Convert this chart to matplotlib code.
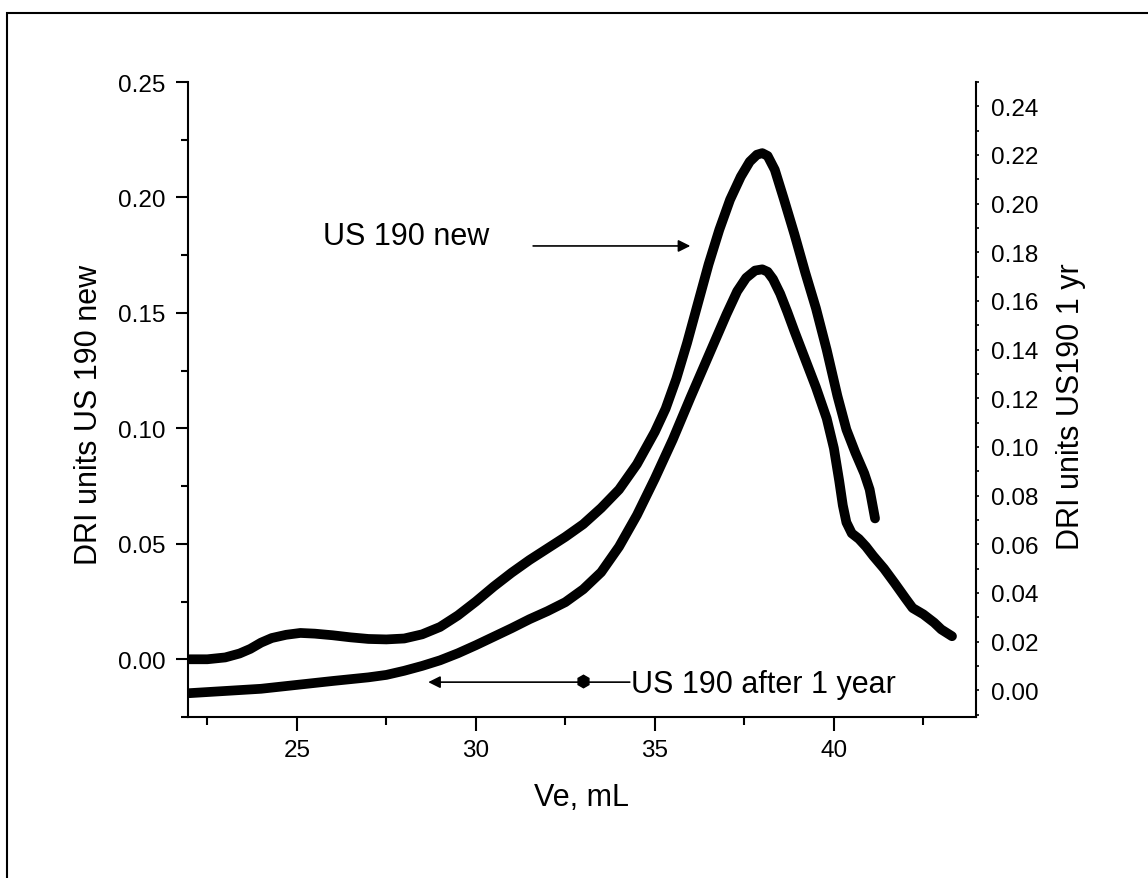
import matplotlib
matplotlib.use("Agg")
import matplotlib.pyplot as plt
from matplotlib.patches import Rectangle
from matplotlib.ticker import MultipleLocator

plt.rcParams['font.family'] = ['Liberation Sans', 'DejaVu Sans']

# US 190 new (left axis)
ve_new = [22.0, 22.5, 23.0, 23.4, 23.7, 24.0, 24.3, 24.7, 25.1, 25.5,
          26.0, 26.5, 27.0, 27.5, 28.0, 28.5, 29.0, 29.5, 30.0, 30.5,
          31.0, 31.5, 32.0, 32.5, 33.0, 33.5, 34.0, 34.5, 35.0, 35.3,
          35.6, 35.9, 36.2, 36.5, 36.8, 37.1, 37.4, 37.65, 37.85, 38.0,
          38.15, 38.35, 38.6, 38.9, 39.2, 39.5, 39.8, 40.1, 40.35, 40.6,
          40.85, 41.0, 41.15]
dri_new = [0.0, 0.0, 0.0008, 0.0025, 0.0045, 0.0072, 0.0092, 0.0106, 0.0114, 0.0111,
           0.0104, 0.0095, 0.0088, 0.0086, 0.0090, 0.0108, 0.0140, 0.0190, 0.0250, 0.0315,
           0.0375, 0.0430, 0.0480, 0.0530, 0.0585, 0.0655, 0.0735, 0.0845, 0.0985, 0.1085,
           0.1215, 0.1370, 0.1540, 0.1710, 0.1860, 0.1990, 0.2090, 0.2155, 0.2185, 0.2192,
           0.2180, 0.2120, 0.1995, 0.1840, 0.1675, 0.1520, 0.1340, 0.1140, 0.0995, 0.0895,
           0.0805, 0.0735, 0.0610]

# US 190 after 1 year (right axis)
ve_1yr = [22.0, 23.0, 24.0, 25.0, 26.0, 27.0, 27.5, 28.0, 28.5, 29.0,
          29.5, 30.0, 30.5, 31.0, 31.5, 32.0, 32.5, 33.0, 33.5, 34.0,
          34.5, 35.0, 35.5, 36.0, 36.5, 37.0, 37.3, 37.55, 37.8, 38.0,
          38.15, 38.3, 38.5, 38.7, 38.9, 39.2, 39.5, 39.8, 40.0, 40.15,
          40.25, 40.35, 40.5, 40.7, 40.9, 41.1, 41.4, 41.7, 42.0, 42.2,
          42.5, 42.8, 43.0, 43.3]
dri_1yr = [-0.0012, -0.0003, 0.0006, 0.0022, 0.0038, 0.0053, 0.0063, 0.0080, 0.0100, 0.0123,
           0.0152, 0.0185, 0.0220, 0.0255, 0.0292, 0.0325, 0.0362, 0.0415, 0.0485, 0.0590,
           0.0720, 0.0870, 0.1030, 0.1205, 0.1375, 0.1545, 0.1640, 0.1695, 0.1725, 0.1730,
           0.1720, 0.1690, 0.1630, 0.1555, 0.1475, 0.1360, 0.1245, 0.1117, 0.0995, 0.0860,
           0.0760, 0.0690, 0.0645, 0.0622, 0.0590, 0.0552, 0.0500, 0.0440, 0.0378, 0.0338,
           0.0312, 0.0278, 0.0250, 0.0222]

fig = plt.figure(figsize=(11.48, 8.79), dpi=100)
ax = fig.add_axes([0.16376, 0.18316, 0.68641, 0.72241])
ax2 = ax.twinx()

line_kw = dict(color='black', lw=7, solid_capstyle='round', solid_joinstyle='round')
ax.plot(ve_new, dri_new, **line_kw)
ax2.plot(ve_1yr, dri_1yr, **line_kw)

ax.set_xlim(21.96, 43.97)
ax.set_ylim(-0.025, 0.25)
ax2.set_ylim(-0.011, 0.25)

ax.xaxis.set_major_locator(MultipleLocator(5))
ax.xaxis.set_minor_locator(MultipleLocator(2.5))
ax.yaxis.set_major_locator(MultipleLocator(0.05))
ax.yaxis.set_minor_locator(MultipleLocator(0.025))
ax.yaxis.set_major_formatter(plt.FormatStrFormatter('%.2f'))
ax2.yaxis.set_major_locator(MultipleLocator(0.02))
ax2.yaxis.set_minor_locator(MultipleLocator(0.01))
ax2.yaxis.set_major_formatter(plt.FormatStrFormatter('%.2f'))

for a in (ax, ax2):
    a.spines['top'].set_visible(False)
    for s in a.spines.values():
        s.set_linewidth(1.5)
ax.spines['right'].set_visible(False)
ax2.spines['left'].set_visible(False)
ax2.spines['bottom'].set_visible(False)

ax.tick_params(axis='y', which='major', direction='out', length=9, width=1.5, labelsize=17.5, pad=7)
ax.tick_params(axis='y', which='minor', direction='out', length=5, width=1.5)
ax.tick_params(axis='x', which='major', direction='out', length=10, width=1.5, labelsize=17.5, pad=6)
ax.tick_params(axis='x', which='minor', direction='out', length=5.5, width=1.5)
ax2.tick_params(axis='y', which='major', direction='out', length=2.5, width=1.2, labelsize=17.5, pad=8)
ax2.tick_params(axis='y', which='minor', direction='out', length=1.8, width=1.2)

ax.set_xlabel('Ve, mL', fontsize=22)
ax.xaxis.set_label_coords(0.499, -0.102)
ax.set_ylabel('DRI units US 190 new', fontsize=22)
ax.yaxis.set_label_coords(-0.106, 0.477)
ax2.set_ylabel('DRI units US190 1 yr', fontsize=22, rotation=90)
ax2.yaxis.set_label_coords(1.102, 0.491)

# annotations
arrow_kw = dict(arrowstyle='-|>', color='black', lw=1.2, mutation_scale=18,
                shrinkA=0, shrinkB=0)
ax.text(25.73, 0.1799, 'US 190 new', fontsize=22, va='baseline', ha='left')
ax.annotate('', xy=(35.99, 0.179), xytext=(31.60, 0.179), arrowprops=arrow_kw)

ax.text(34.34, -0.0143, 'US 190 after 1 year', fontsize=22, va='baseline', ha='left')
ax.annotate('', xy=(28.67, -0.0099), xytext=(34.30, -0.0099), arrowprops=arrow_kw)
ax.plot([33.0], [-0.0095], marker='h', color='black', markersize=9)

fig.add_artist(Rectangle((7 / 1148, -0.1), 1.2, 1.092 - 7 / 879, transform=fig.transFigure,
                         fill=False, lw=1.5, edgecolor='black'))

fig.savefig('out.png', dpi=100)
